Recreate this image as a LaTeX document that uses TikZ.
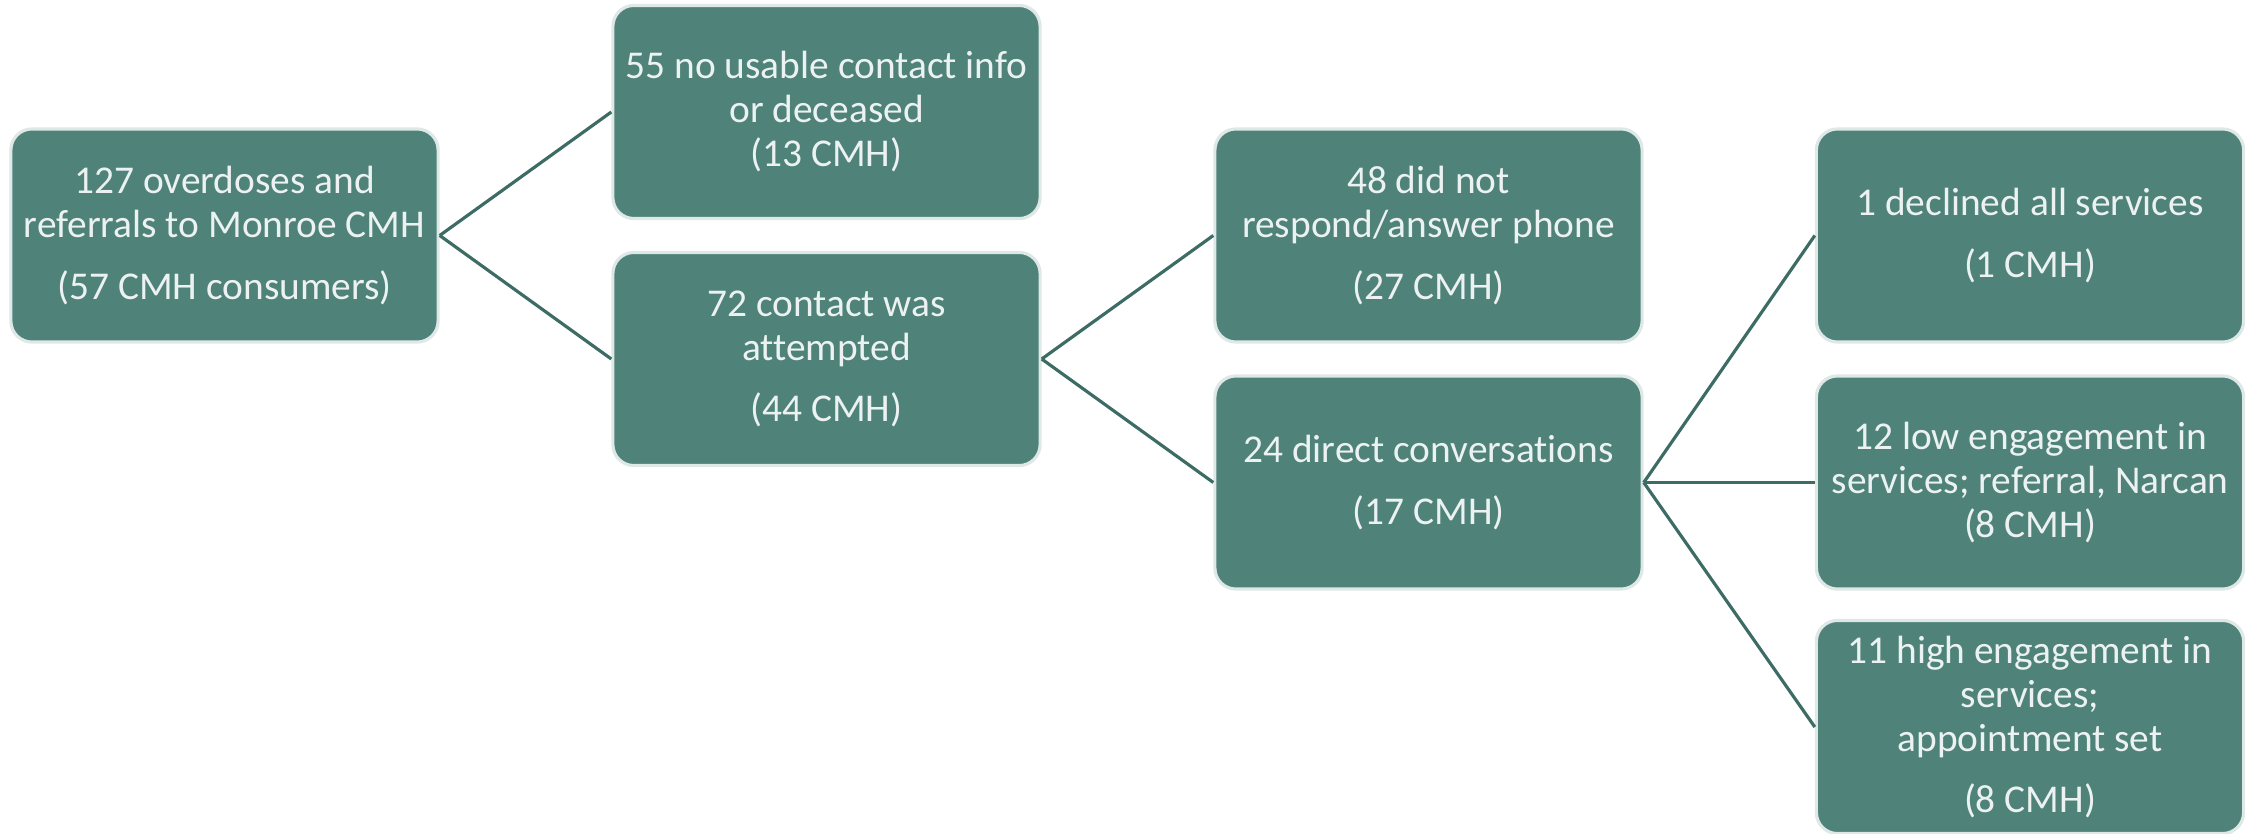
\documentclass[tikz,border=0pt]{standalone}
\usepackage{fontspec}
\setmainfont{Carlito}[Ligatures={NoCommon}]
\definecolor{boxfill}{RGB}{79,131,122}
\definecolor{boxedge}{RGB}{222,232,230}
\definecolor{linkcol}{RGB}{60,108,100}
\definecolor{boxtext}{RGB}{236,242,241}
\tikzset{
  stepbox/.style={rectangle, rounded corners=0.21cm, fill=boxfill, draw=boxedge,
    line width=0.9pt, minimum width=4.27cm, minimum height=2.13cm, inner sep=0pt,
    align=center, text=boxtext, font=\fontsize{11.2}{12.5}\selectfont},
  link/.style={draw=linkcol, line width=0.9pt}
}
\begin{document}
\begin{tikzpicture}[x=0.01cm, y=-0.01cm]
\useasboundingbox (0,0) rectangle (2252,834);
% level 0
\node[stepbox] (all) at (224.5,235.5) {127 overdoses and\\referrals to Monroe CMH\\[5pt](57 CMH consumers)};
% level 1
\node[stepbox] (noinfo) at (826.5,112) {55 no usable contact info\\or deceased\\(13 CMH)};
\node[stepbox] (tried) at (826.5,359) {72 contact was\\attempted\\[5pt](44 CMH)};
% level 2
\node[stepbox] (noanswer) at (1428.5,235.5) {48 did not\\respond/answer phone\\[5pt](27 CMH)};
\node[stepbox] (talked) at (1428.5,482.5) {24 direct conversations\\[5pt](17 CMH)};
% level 3
\node[stepbox] (declined) at (2030,235.5) {1 declined all services\\[5pt](1 CMH)};
\node[stepbox] (low) at (2030,482.5) {12 low engagement in\\services; referral, Narcan\\(8 CMH)};
\node[stepbox] (high) at (2030,727) {11 high engagement in\\services;\\appointment set\\[5pt](8 CMH)};
% connectors
\draw[link] (all.east) -- (noinfo.west);
\draw[link] (all.east) -- (tried.west);
\draw[link] (tried.east) -- (noanswer.west);
\draw[link] (tried.east) -- (talked.west);
\draw[link] (talked.east) -- (declined.west);
\draw[link] (talked.east) -- (low.west);
\draw[link] (talked.east) -- (high.west);
\end{tikzpicture}
\end{document}
